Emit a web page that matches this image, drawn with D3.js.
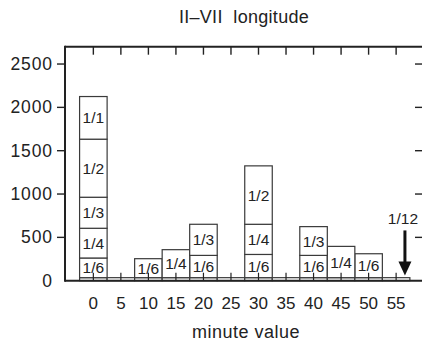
<!DOCTYPE html>
<html>
<head>
<meta charset="utf-8">
<script src="https://cdn.jsdelivr.net/npm/d3@7"></script>
<style>
  body { margin: 0; background: #fff; }
  svg { display: block; font-family: "Liberation Sans", Arial, sans-serif; }
</style>
</head>
<body>
<div id="chart"></div>
<script>
// data
const minutes = [0, 5, 10, 15, 20, 25, 30, 35, 40, 45, 50, 55]
const levels = ['1/12', '1/6', '1/4', '1/3', '1/2', '1/1']
const v12 = [35, 35, 35, 35, 35, 35, 35, 35, 35, 35, 35, 35]
const v6  = [227, 0, 219, 0, 257, 0, 268, 0, 257, 0, 276, 0]
const v4  = [343, 0, 0, 323, 0, 0, 348, 0, 0, 361, 0, 0]
const v3  = [358, 0, 0, 0, 359, 0, 0, 0, 332, 0, 0, 0]
const v2  = [670, 0, 0, 0, 0, 0, 674, 0, 0, 0, 0, 0]
const v1  = [492, 0, 0, 0, 0, 0, 0, 0, 0, 0, 0, 0]
const yTicks = [0, 500, 1000, 1500, 2000, 2500]
const title = 'II\u2013VII  longitude'
const xTitle = 'minute value'
const arrowNote = { label: '1/12', x: 56.6, from: 580, to: 60 }

const chart = { width: 422, height: 344 }

const table = minutes.map((m, i) => ({
  minute: m,
  '1/12': v12[i], '1/6': v6[i], '1/4': v4[i], '1/3': v3[i], '1/2': v2[i], '1/1': v1[i]
}))

const xScale = d3.scaleLinear()
  .domain([-5.15, 59.7])
  .range([65, 422])

const yScale = d3.scaleLinear()
  .domain([0, 2700])
  .range([280.7, 46.7])

const svg = d3.select('#chart')
  .append('svg')
    .attr('width', chart.width)
    .attr('height', chart.height)

const stacked = d3.stack().keys(levels)(table)

const layer = svg.selectAll('g.layer')
  .data(stacked)
  .join('g')
    .attr('class', 'layer')

const seg = layer.selectAll('g')
  .data(s => s.map(d => ({ key: s.key, y0: d[0], y1: d[1], minute: d.data.minute })).filter(d => d.y1 > d.y0))
  .join('g')

seg.append('rect')
  .attr('x', d => xScale(d.minute - 2.5))
  .attr('y', d => yScale(d.y1))
  .attr('width', xScale(5) - xScale(0))
  .attr('height', d => yScale(d.y0) - yScale(d.y1))
  .attr('fill', 'white')
  .attr('stroke', '#3a3a3a')
  .attr('stroke-width', 1.2)

seg.filter(d => d.key !== '1/12')
  .append('text')
  .attr('x', d => xScale(d.minute))
  .attr('y', d => (yScale(d.y0) + yScale(d.y1)) / 2 + 5.5)
  .attr('text-anchor', 'middle')
  .attr('font-size', 15.5)
  .attr('fill', '#222')
  .text(d => d.key)

// frame
const [x0, x1] = xScale.range()
const [yb, yt] = yScale.range()
const frame = svg.append('g').attr('stroke', '#222')
frame.append('line').attr('x1', x0).attr('x2', x1 + 2).attr('y1', yt).attr('y2', yt).attr('stroke-width', 2)
frame.append('line').attr('x1', x0).attr('x2', x1 + 2).attr('y1', yb).attr('y2', yb).attr('stroke-width', 2)
frame.append('line').attr('x1', x0).attr('x2', x0).attr('y1', yt - 1).attr('y2', yb + 1).attr('stroke-width', 2)

// x ticks, top and bottom, pointing inward
const xt = svg.append('g')
xt.selectAll('line.top')
  .data(minutes)
  .join('line')
    .attr('class', 'top')
    .attr('x1', d => xScale(d)).attr('x2', d => xScale(d))
    .attr('y1', yt).attr('y2', yt + 8)
    .attr('stroke', '#222').attr('stroke-width', 1.4)
xt.selectAll('line.bot')
  .data(minutes)
  .join('line')
    .attr('class', 'bot')
    .attr('x1', d => xScale(d)).attr('x2', d => xScale(d))
    .attr('y1', yb).attr('y2', yb - 8)
    .attr('stroke', '#222').attr('stroke-width', 1.2)
xt.selectAll('text')
  .data(minutes)
  .join('text')
    .attr('x', d => xScale(d))
    .attr('y', 308.5)
    .attr('text-anchor', 'middle')
    .attr('font-size', 17)
    .attr('fill', '#222')
    .text(d => d)

// y ticks: outward on left, inward on right
const ytg = svg.append('g')
ytg.selectAll('line.left')
  .data(yTicks.filter(d => d > 0))
  .join('line')
    .attr('class', 'left')
    .attr('x1', x0 - 8).attr('x2', x0)
    .attr('y1', d => yScale(d)).attr('y2', d => yScale(d))
    .attr('stroke', '#222').attr('stroke-width', 1.4)
ytg.selectAll('line.right')
  .data(yTicks.filter(d => d > 0))
  .join('line')
    .attr('class', 'right')
    .attr('x1', 415).attr('x2', 422)
    .attr('y1', d => yScale(d)).attr('y2', d => yScale(d))
    .attr('stroke', '#222').attr('stroke-width', 1.4)
ytg.selectAll('text')
  .data(yTicks)
  .join('text')
    .attr('x', 53)
    .attr('y', d => yScale(d) + 6)
    .attr('text-anchor', 'end')
    .attr('font-size', 17.5)
    .attr('letter-spacing', 0.9)
    .attr('fill', '#222')
    .text(d => d)

// arrow pointing at the 1/12 bar
const ax = xScale(arrowNote.x)
svg.append('line')
  .attr('x1', ax).attr('x2', ax)
  .attr('y1', yScale(arrowNote.from)).attr('y2', yScale(arrowNote.to) - 12)
  .attr('stroke', '#111').attr('stroke-width', 3)
svg.append('path')
  .attr('d', `M${ax - 6.5},${yScale(arrowNote.to) - 14} L${ax + 6.5},${yScale(arrowNote.to) - 14} L${ax},${yScale(arrowNote.to)} Z`)
  .attr('fill', '#111')
svg.append('text')
  .attr('x', ax - 2)
  .attr('y', yScale(arrowNote.from) - 6)
  .attr('text-anchor', 'middle')
  .attr('font-size', 15.5)
  .attr('fill', '#222')
  .text(arrowNote.label)

// titles
svg.append('text')
  .attr('x', 244)
  .attr('y', 23)
  .attr('text-anchor', 'middle')
  .attr('font-size', 18)
  .attr('letter-spacing', 0.3)
  .style('white-space', 'pre')
  .attr('fill', '#222')
  .text(title)

svg.append('text')
  .attr('x', 246)
  .attr('y', 338)
  .attr('text-anchor', 'middle')
  .attr('font-size', 18)
  .attr('letter-spacing', 0.5)
  .attr('fill', '#222')
  .text(xTitle)
</script>
</body>
</html>
